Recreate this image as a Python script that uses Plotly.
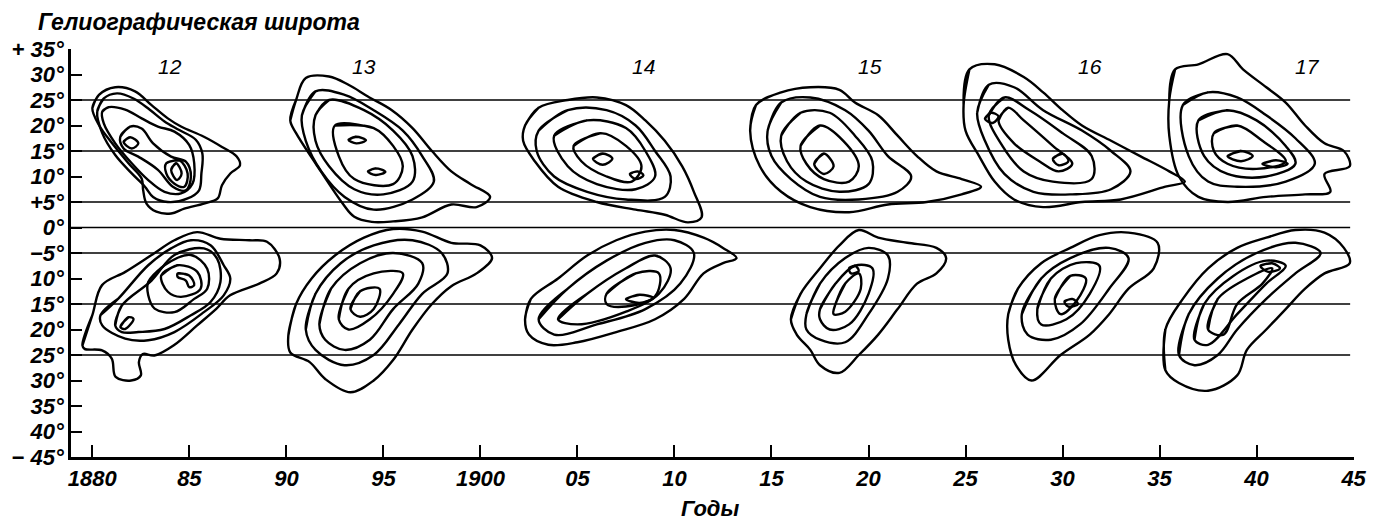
import plotly.graph_objects as go

# ---------------- data ----------------
x_tick_years = [1880, 1885, 1890, 1895, 1900, 1905, 1910, 1915, 1920, 1925, 1930, 1935, 1940, 1945]
x_tick_text = ["1880", "85", "90", "95", "1900", "05", "10", "15", "20", "25", "30", "35", "40", "45"]
y_tick_vals = [35, 30, 25, 20, 15, 10, 5, 0, -5, -10, -15, -20, -25, -30, -35, -40, -45]
y_tick_text = ["+ 35°", "30°", "25°", "20°", "15°", "10°", "+5°", "0°", "−5°", "10°", "15°", "20°",
               "25°", "30°", "35°", "40°", "− 45°"]
ref_lats = [25, 15, 5, 0, -5, -15, -25]

cycle_names = ["12", "13", "14", "15", "16", "17"]
cycle_label_years = [1884.0, 1894.0, 1908.4, 1920.1, 1931.4, 1942.6]
cycle_label_lat = 31.6

# each blob: list of closed contour rings, each ring a list of (year, latitude)
c12_north = [
    [(1880.00, 23.4), (1880.34, 26.0), (1881.18, 27.5), (1882.20, 26.7), (1883.05, 24.0), (1883.89, 21.4),
     (1884.57, 19.8), (1885.75, 17.8), (1886.68, 15.8), (1887.44, 13.9), (1887.61, 12.2), (1887.11, 10.6),
     (1886.68, 8.3), (1886.46, 5.7), (1885.75, 4.7), (1884.74, 3.7), (1884.06, 2.75), (1883.30, 3.1),
     (1882.79, 4.7), (1882.62, 7.3), (1882.54, 9.6), (1881.86, 12.6), (1881.02, 16.5), (1880.34, 20.1)],
    [(1880.25, 22.7), (1880.59, 25.3), (1881.27, 26.3), (1882.12, 25.3), (1882.96, 23.1), (1883.72, 20.8),
     (1884.48, 19.1), (1885.33, 17.2), (1885.67, 14.5), (1885.62, 10.6), (1885.50, 7.3), (1884.91, 5.7),
     (1883.89, 5.0), (1883.13, 6.0), (1882.71, 8.0), (1882.03, 10.6), (1881.18, 14.2), (1880.51, 18.5)],
    [(1880.51, 22.7), (1880.85, 23.6), (1881.69, 23.1), (1882.54, 21.4), (1883.38, 19.8), (1884.23, 18.8),
     (1884.99, 16.2), (1885.25, 12.6), (1885.16, 8.6), (1884.57, 6.7), (1883.72, 7.0), (1882.88, 9.3),
     (1882.03, 12.6), (1881.18, 16.5), (1880.59, 20.4)],
    [(1881.44, 17.8), (1881.95, 19.8), (1882.54, 19.4), (1883.13, 16.5), (1884.06, 13.9), (1884.82, 12.9),
     (1885.08, 10.0), (1884.82, 7.3), (1884.15, 8.0), (1883.38, 11.3), (1882.37, 13.9), (1881.61, 15.5)],
    [(1883.81, 12.6), (1884.48, 13.2), (1884.91, 10.6), (1884.74, 8.0), (1884.23, 8.6), (1883.81, 10.6)],
    [(1881.61, 16.8), (1881.95, 17.7), (1882.37, 16.5), (1882.03, 15.5)],
    [(1884.06, 11.3), (1884.31, 12.6), (1884.60, 10.6), (1884.37, 9.3)],
]

c12_south = [
    [(1879.49, -23.1), (1880.0, -17.2), (1880.5, -11.3), (1881.7, -8.7), (1883.05, -5.4), (1884.23, -2.5),
     (1885.4, -0.9), (1886.6, -2.2), (1888.1, -2.5), (1889.0, -2.8), (1889.65, -6.1), (1889.5, -9.0),
     (1888.6, -11.0), (1887.1, -13.3), (1886.4, -15.9), (1885.4, -19.2), (1884.2, -23.1), (1883.2, -25.1),
     (1882.6, -24.8), (1882.4, -26.4), (1882.5, -29.0), (1882.0, -30.0), (1881.2, -29.3), (1881.0, -25.7),
     (1880.5, -24.1), (1879.6, -23.8)],
    [(1880.42, -17.2), (1881.35, -13.9), (1882.88, -7.4), (1884.06, -4.1), (1885.08, -2.5), (1886.09, -3.5),
     (1886.77, -7.4), (1887.11, -10.0), (1886.77, -13.3), (1885.75, -16.6), (1884.23, -20.5),
     (1882.88, -22.1), (1881.69, -21.8), (1880.51, -19.2)],
    [(1881.18, -19.2), (1881.52, -15.3), (1883.05, -10.4), (1884.23, -5.4), (1885.75, -4.1), (1886.43, -6.1),
     (1886.6, -10.7), (1886.09, -14.6), (1885.08, -17.2), (1883.72, -19.9), (1882.37, -20.5), (1881.52, -20.5)],
    [(1882.88, -10.7), (1883.72, -7.4), (1885.08, -5.4), (1885.92, -8.1), (1885.92, -12.0), (1885.25, -14.0),
     (1884.23, -16.6), (1883.21, -15.9), (1882.88, -13.3)],
    [(1883.55, -9.4), (1884.4, -7.4), (1885.41, -8.7), (1885.58, -12.0), (1884.57, -13.6), (1883.89, -12.6)],
    [(1884.4, -9.0), (1884.99, -9.4), (1885.25, -11.3), (1884.99, -11.7), (1884.82, -10.4), (1884.4, -9.7)],
    [(1881.44, -19.5), (1881.86, -17.6), (1882.12, -17.9), (1881.69, -19.9)],
]

c13_north = [
    [(1890.2, 21), (1890.5, 25), (1891.0, 29.3), (1892.2, 29.6), (1893.2, 28), (1894.2, 25.7), (1895.4, 23.1),
     (1896.5, 19.5), (1897.5, 15), (1898.5, 11), (1899.5, 8.5), (1900.5, 6), (1899.8, 4), (1898.5, 4.5),
     (1897, 2), (1895.5, 1.2), (1894.4, 1.1), (1893.5, 2.1), (1892.9, 4.7), (1891.5, 12.6), (1890.5, 18.5)],
    [(1890.8, 22), (1891.5, 26.7), (1893, 26), (1894.5, 23), (1896, 19), (1897, 14), (1897.6, 9),
     (1896.5, 5.5), (1894.5, 3.5), (1893, 6), (1891.8, 11), (1891, 17)],
    [(1891.5, 22), (1892.2, 25), (1894, 23), (1895.5, 19), (1896.5, 14), (1896.5, 9), (1895, 6.5),
     (1893.5, 7.5), (1892.2, 12), (1891.5, 17)],
    [(1892.5, 20), (1894.5, 19.5), (1895.5, 16), (1896, 12), (1895.5, 8.5), (1893.5, 9.5), (1892.7, 14)],
    [(1893.2, 17.2), (1893.6, 17.8), (1894.1, 17.1), (1893.6, 16.5)],
    [(1894.2, 11), (1894.6, 11.6), (1895.1, 10.9), (1894.6, 10.3)],
]

c13_south = [
    [(1890.1, -21.2), (1890.5, -15), (1891.3, -10), (1892.5, -5.5), (1894, -2), (1895.5, -0.3), (1897, -0.8),
     (1898.5, -3), (1900, -3.5), (1900.6, -6), (1899.8, -9), (1898.5, -11.5), (1897.5, -15), (1896.5, -20),
     (1895.5, -26), (1894.5, -30), (1893.3, -32.3), (1892, -29.7), (1891.2, -26.4), (1890.2, -24.5)],
    [(1891, -20), (1891.5, -13), (1892.8, -7), (1894.5, -3.5), (1896.5, -2.5), (1898, -5), (1898.3, -9),
     (1897, -13), (1895.8, -19), (1894.5, -25), (1893, -27), (1891.5, -24)],
    [(1891.7, -19), (1892.3, -12), (1893.8, -7), (1895.5, -5), (1897, -7), (1896.8, -11), (1895.5, -16),
     (1894.3, -22), (1893, -24), (1892, -22)],
    [(1892.7, -18), (1893.2, -12), (1894.5, -9), (1896, -9), (1895.5, -13), (1894.3, -18), (1893.2, -20)],
    [(1893.3, -16), (1893.8, -12.5), (1894.8, -12), (1894.5, -16), (1893.8, -17.5)],
]

c14_north = [
    [(1902.3, 20), (1903, 23.5), (1904.5, 25), (1906, 25.5), (1907.5, 24), (1908.5, 21), (1909.5, 17),
     (1910.4, 12), (1911.0, 7), (1911.4, 2), (1910.7, 1), (1909.5, 2.5), (1908, 3.5), (1906, 5), (1904, 8),
     (1902.8, 13), (1902.2, 17)],
    [(1903, 19), (1904.5, 23), (1906.5, 23), (1908, 20), (1909, 15), (1909.8, 10), (1909.5, 6), (1907.5, 5.5),
     (1905.5, 7), (1903.8, 10), (1902.9, 15)],
    [(1903.8, 18), (1905.5, 21), (1907.5, 19.5), (1908.5, 15), (1909, 10), (1908, 7.5), (1906, 8.5),
     (1904.5, 12)],
    [(1904.8, 16), (1906.2, 18.5), (1907.5, 16), (1908.3, 12), (1907.8, 9), (1906.5, 10), (1905.2, 13)],
    [(1905.8, 13.5), (1906.3, 14.5), (1906.8, 13.5), (1906.3, 12.3)],
    [(1907.7, 10.5), (1908.1, 11), (1908.4, 10.2), (1908, 9.5)],
]

c14_south = [
    [(1902.3, -18), (1902.6, -14), (1904, -10), (1905.5, -5.5), (1907, -2.5), (1908.5, -0.8), (1910, -0.5),
     (1911.5, -2), (1912.5, -4), (1913.2, -6), (1912.5, -7), (1911.5, -9), (1910.5, -14), (1909, -18),
     (1907, -20.5), (1905, -22.5), (1903.5, -23), (1902.5, -21)],
    [(1903, -18), (1904.5, -12), (1906.5, -6.5), (1908.5, -3), (1910, -2.5), (1911, -5), (1910.3, -11),
     (1908.5, -16), (1906, -19), (1903.8, -21)],
    [(1904, -18), (1905.5, -13), (1907.5, -8), (1909, -5.5), (1909.8, -8), (1909.2, -13), (1907.5, -16.5),
     (1905, -19)],
    [(1906.5, -13), (1908, -9), (1909.2, -9), (1909, -13.5), (1907.5, -15.5), (1906.5, -15)],
    [(1907.5, -14), (1908.2, -13.2), (1908.9, -13.8), (1908.2, -14.8)],
]

c15_north = [
    [(1913.9, 19), (1914.2, 24), (1915.5, 26.5), (1917, 27.5), (1918.5, 27), (1919.3, 24.5), (1920.5, 22),
     (1921.5, 18), (1922.5, 14), (1923.5, 11), (1924.8, 9.5), (1925.8, 8), (1924.8, 6.5), (1923, 5),
     (1921, 4.5), (1919, 3), (1917, 4), (1915.5, 7), (1914.4, 12)],
    [(1914.8, 19), (1915.5, 24.5), (1917, 25.5), (1918.8, 23), (1920, 19), (1921, 14), (1922.2, 10),
     (1921.5, 7), (1919.5, 5.5), (1917.5, 6), (1916, 9.5), (1915, 14)],
    [(1915.5, 18), (1916.5, 22.5), (1918, 22.5), (1919.3, 18), (1920.2, 13), (1920, 8.5), (1918.5, 7),
     (1916.8, 9), (1915.8, 13)],
    [(1916.5, 16), (1917.5, 20), (1918.7, 17), (1919.5, 12), (1919, 9), (1917.7, 9.5), (1916.8, 12.5)],
    [(1917.2, 12.5), (1917.7, 14.5), (1918.2, 12), (1917.7, 10.5)],
]

c15_south = [
    [(1916, -18), (1916.5, -13), (1917.5, -8), (1918.5, -3.5), (1919.5, -0.5), (1920.5, -2), (1922, -3),
     (1923.5, -4), (1924, -6), (1923.5, -9), (1922.5, -11), (1921.5, -16), (1920.5, -21), (1919.5, -25),
     (1918.5, -28.5), (1917.5, -27), (1917, -24), (1916.3, -21)],
    [(1916.8, -17), (1917.5, -11), (1918.8, -6), (1920, -4), (1921, -5.5), (1921, -10), (1920, -17),
     (1918.8, -22.5), (1917.5, -22), (1916.8, -20)],
    [(1917.5, -16), (1918.3, -11), (1919.3, -7.5), (1920.2, -8), (1920, -13), (1919, -19), (1918, -20),
     (1917.5, -18)],
    [(1918.3, -15), (1918.8, -11), (1919.5, -9), (1919.6, -12), (1918.8, -16.5), (1918.2, -17)],
    [(1919, -8), (1919.3, -7.5), (1919.5, -8.5), (1919.1, -9)],
]

c16_north = [
    [(1924.9, 24), (1925.2, 31), (1926.5, 32), (1928, 29.5), (1929, 26.5), (1930, 23), (1931, 20),
     (1932.5, 17), (1934, 14), (1935.5, 11), (1936.3, 9), (1935.3, 8), (1933, 5.5), (1931, 5), (1929, 4),
     (1927.5, 5.5), (1926.5, 9), (1925.7, 14), (1925, 19)],
    [(1925.6, 22.5), (1926.2, 28), (1927.5, 27.5), (1929, 23), (1931, 19), (1932.5, 15), (1933.5, 11),
     (1932.5, 7.5), (1930.5, 6.5), (1928.5, 7), (1927, 10.5), (1926, 17)],
    [(1926.2, 22), (1927, 25.5), (1928.3, 23), (1930, 18.5), (1931.5, 14), (1931.5, 9.5), (1929.5, 9),
     (1928, 11), (1926.9, 16)],
    [(1926.7, 21), (1927.2, 23.5), (1928, 21), (1929.5, 16), (1930.5, 12.5), (1929.8, 11), (1928.8, 13),
     (1927.5, 16.5)],
    [(1926.0, 21.3), (1926.3, 22.5), (1926.7, 21.8), (1926.4, 20.5)],
    [(1929.5, 13.5), (1930, 14.5), (1930.3, 13), (1929.8, 12.2)],
]

c16_south = [
    [(1927.2, -17), (1927.7, -12), (1928.9, -7), (1930.4, -4), (1931.9, -1.5), (1933.4, -1), (1934.9, -3),
     (1934.7, -8), (1933.4, -12), (1932.4, -17), (1931.4, -21), (1929.9, -25), (1928.4, -30), (1927.6, -27),
     (1927.2, -22)],
    [(1927.9, -17), (1928.9, -10), (1930.4, -6), (1932.4, -4), (1933.4, -6), (1932.4, -12), (1930.9, -19),
     (1929.4, -22), (1928.2, -21)],
    [(1928.7, -16), (1929.4, -10), (1930.7, -7), (1931.9, -7.5), (1931.4, -13), (1930.2, -18), (1928.9, -19)],
    [(1929.6, -14), (1930.4, -9.5), (1931.2, -10), (1930.7, -14.5), (1929.9, -17)],
    [(1930.1, -14.5), (1930.5, -14), (1930.8, -15), (1930.3, -15.5)],
]

c17_north = [
    [(1935.5, 25), (1935.8, 31), (1937, 32), (1938.5, 34), (1939.3, 31), (1940.5, 27.5), (1941.5, 24.5),
     (1942.5, 20), (1943.5, 16.5), (1944.5, 15), (1944.8, 12), (1943.5, 10.5), (1943.8, 7), (1942.5, 6.5),
     (1940.5, 6), (1938.5, 5), (1937, 6), (1936, 10), (1935.5, 18)],
    [(1936.2, 24), (1937.5, 26.5), (1939, 25.5), (1940.5, 22), (1942, 17.5), (1943, 12.5), (1941.5, 9),
     (1939, 8), (1937.5, 9), (1936.5, 14)],
    [(1937, 21), (1938.5, 23), (1940, 21), (1941.5, 16), (1942, 12.5), (1940.5, 10), (1938.5, 10.5),
     (1937.3, 14)],
    [(1937.8, 18.5), (1939, 20), (1940.3, 17), (1941.5, 13), (1940, 11.5), (1938.5, 12.5), (1937.8, 15)],
    [(1938.5, 14), (1939.2, 15), (1939.8, 14), (1939.2, 13)],
    [(1940.3, 12.5), (1941, 13.2), (1941.6, 12.5), (1941, 11.8)],
]

c17_south = [
    [(1935.3, -28), (1935.3, -20), (1936.2, -14), (1937.5, -8), (1939, -4), (1940.5, -2), (1942, -0.5),
     (1943.5, -1), (1944.5, -4), (1944.8, -7), (1943.5, -9), (1942.5, -12), (1941.5, -16), (1940.5, -20),
     (1939.5, -24), (1939, -29), (1937.5, -32), (1936, -30.5)],
    [(1936, -25), (1936.5, -17), (1938, -10), (1940, -5), (1942, -3), (1943.3, -5), (1942, -9),
     (1940.5, -14), (1939, -20), (1938, -25), (1936.8, -27)],
    [(1936.8, -22), (1937.3, -15), (1938.8, -9.5), (1940.5, -6.5), (1941.5, -7.5), (1940.5, -11),
     (1939, -17), (1937.5, -23)],
    [(1937.5, -20), (1938, -14), (1939.5, -10), (1940.8, -8), (1940.3, -11), (1939, -15), (1938.3, -21)],
    [(1940.2, -7.5), (1940.8, -7), (1941.2, -8), (1940.6, -8.7)],
]

blobs = [c12_north, c12_south, c13_north, c13_south, c14_north, c14_south,
         c15_north, c15_south, c16_north, c16_south, c17_north, c17_south]

# ---------------- figure ----------------
FONT = "Liberation Sans, sans-serif"
fig = go.Figure()

for blob in blobs:
    for ring in blob:
        xs = [p[0] for p in ring] + [ring[0][0], ring[1][0]]
        ys = [p[1] for p in ring] + [ring[0][1], ring[1][1]]
        fig.add_trace(go.Scatter(x=xs, y=ys, mode="lines", showlegend=False, hoverinfo="skip",
                                 line=dict(color="black", width=2.4, shape="spline", smoothing=1.0)))

for lat in ref_lats:
    fig.add_shape(type="line", xref="paper", yref="y", x0=0, x1=0.997, y0=lat, y1=lat,
                  line=dict(color="black", width=1.5), layer="below")

for name, yr in zip(cycle_names, cycle_label_years):
    fig.add_annotation(x=yr, y=cycle_label_lat, text=name, showarrow=False, xref="x", yref="y",
                       font=dict(family=FONT, size=21, style="italic", color="black"))

fig.add_annotation(xref="paper", yref="paper", x=-0.027, y=1.066, xanchor="left", yanchor="middle",
                   text="Гелиографическая широта", showarrow=False,
                   font=dict(family=FONT, size=23, style="italic", weight="bold", color="black"))
fig.add_annotation(xref="paper", yref="paper", x=0.498, y=-0.125, xanchor="center", yanchor="middle",
                   text="Годы", showarrow=False,
                   font=dict(family=FONT, size=22, style="italic", weight="bold", color="black"))

tickfont = dict(family=FONT, size=22, style="italic", weight="bold", color="black")
fig.update_xaxes(range=[1878.9, 1945.02], tickmode="array", tickvals=x_tick_years, ticktext=x_tick_text,
                 ticks="inside", ticklen=12, tickwidth=1.5, tickcolor="black", ticklabeloverflow="allow",
                 showline=True, linecolor="black", linewidth=2.5, showgrid=False, zeroline=False,
                 tickfont=tickfont)
fig.update_yaxes(range=[-45, 35], tickmode="array", tickvals=y_tick_vals, ticktext=y_tick_text,
                 ticks="inside", ticklen=11, tickwidth=1.5, tickcolor="black", ticklabeloverflow="allow",
                 showline=True, linecolor="black", linewidth=2.5, showgrid=False, zeroline=False,
                 tickfont=tickfont)

fig.update_layout(width=1379, height=522, margin=dict(l=65, r=12, t=49, b=65),
                  paper_bgcolor="white", plot_bgcolor="white", showlegend=False)

fig.write_html("out.html")
